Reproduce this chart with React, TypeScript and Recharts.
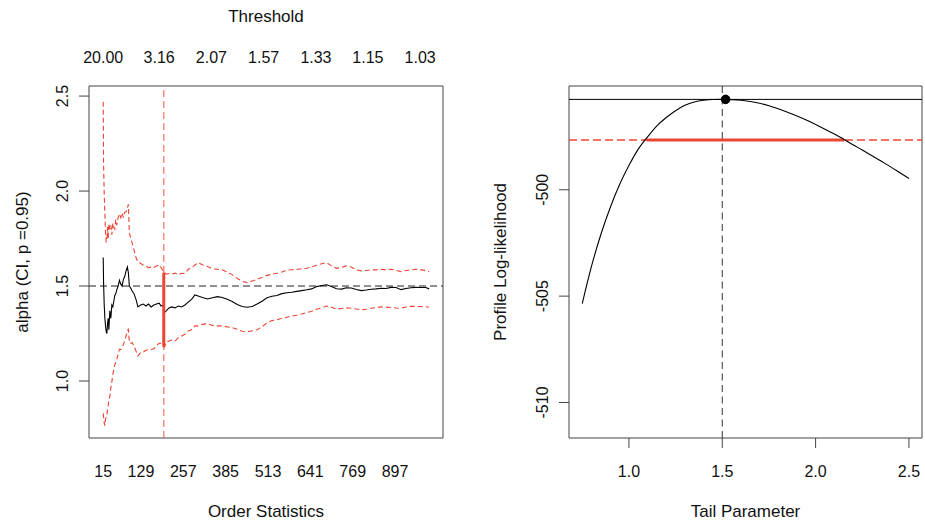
import React from "react";
import {
  ComposedChart,
  Line,
  XAxis,
  YAxis,
  ReferenceLine,
  ReferenceArea,
  ReferenceDot,
} from "recharts";

// ---- left panel: alpha estimate with CI by order statistic ----
const orderStats = [
  15, 16, 18, 20, 22, 24, 26, 28, 30, 32, 35, 38, 41, 44, 47, 50, 53, 56, 60, 64, 68, 72, 76, 80, 84, 88, 91, 94, 98,
  102, 108, 114, 120, 128, 136, 144, 152, 160, 168, 176, 184, 190, 196, 200, 206, 214, 222, 232, 242, 252, 262, 272,
  282, 292, 302, 315, 330, 345, 360, 375, 390, 405, 420, 435, 450, 465, 480, 495, 510, 525, 540, 555, 570, 585, 600,
  615, 630, 645, 660, 675, 690, 705, 720, 735, 750, 765, 780, 795, 810, 825, 840, 855, 870, 885, 900, 915, 930, 945,
  960, 975, 990, 1000,
];
const alphaHat = [
  1.65, 1.52, 1.4, 1.33, 1.29, 1.26, 1.25, 1.3, 1.33, 1.27, 1.37, 1.33, 1.4, 1.39, 1.42, 1.45, 1.46, 1.48, 1.5, 1.53,
  1.51, 1.5, 1.535, 1.55, 1.58, 1.6, 1.57, 1.5, 1.49, 1.475, 1.46, 1.43, 1.39, 1.4, 1.405, 1.395, 1.405, 1.39, 1.4,
  1.405, 1.41, 1.395, 1.4, 1.36, 1.37, 1.385, 1.39, 1.385, 1.395, 1.39, 1.4, 1.415, 1.43, 1.453, 1.448, 1.44, 1.432,
  1.438, 1.444, 1.44, 1.43, 1.418, 1.403, 1.392, 1.388, 1.392, 1.405, 1.42, 1.438, 1.446, 1.45, 1.46, 1.465, 1.467,
  1.472, 1.476, 1.48, 1.485, 1.497, 1.503, 1.507, 1.497, 1.486, 1.484, 1.491, 1.49, 1.482, 1.476, 1.479, 1.483, 1.485,
  1.488, 1.487, 1.493, 1.492, 1.481, 1.487, 1.491, 1.493, 1.492, 1.492, 1.485,
];
const ciUpper = [
  2.47, 2.15, 1.98, 1.88, 1.78, 1.73, 1.74, 1.81, 1.75, 1.83, 1.8, 1.82, 1.77, 1.83, 1.81, 1.8, 1.85, 1.82, 1.86, 1.88,
  1.86, 1.885, 1.86, 1.89, 1.89, 1.91, 1.93, 1.78, 1.755, 1.728, 1.69, 1.65, 1.625, 1.62, 1.61, 1.605, 1.597, 1.6,
  1.598, 1.605, 1.612, 1.597, 1.58, 1.57, 1.562, 1.566, 1.562, 1.568, 1.56, 1.567, 1.566, 1.588, 1.596, 1.611, 1.623,
  1.612, 1.603, 1.59, 1.588, 1.586, 1.573, 1.56, 1.54, 1.525, 1.518, 1.527, 1.535, 1.545, 1.556, 1.562, 1.567, 1.574,
  1.583, 1.586, 1.587, 1.591, 1.594, 1.6, 1.609, 1.617, 1.623, 1.606, 1.593, 1.598, 1.606, 1.6, 1.585, 1.58, 1.582,
  1.585, 1.585, 1.588, 1.585, 1.588, 1.583, 1.576, 1.582, 1.585, 1.588, 1.585, 1.582, 1.576,
];
const ciLower = [
  0.83, 0.81, 0.78, 0.765, 0.8, 0.81, 0.82, 0.85, 0.87, 0.9, 0.92, 0.965, 0.995, 1.035, 1.06, 1.085, 1.1, 1.115, 1.14,
  1.167, 1.165, 1.176, 1.193, 1.21, 1.237, 1.264, 1.272, 1.205, 1.198, 1.203, 1.185, 1.158, 1.132, 1.15, 1.152, 1.162,
  1.165, 1.166, 1.17, 1.185, 1.2, 1.198, 1.19, 1.18, 1.205, 1.211, 1.215, 1.21, 1.228, 1.237, 1.246, 1.264, 1.27,
  1.29, 1.29, 1.298, 1.302, 1.292, 1.29, 1.29, 1.285, 1.281, 1.272, 1.262, 1.26, 1.264, 1.27, 1.285, 1.306, 1.318,
  1.322, 1.33, 1.336, 1.342, 1.346, 1.353, 1.36, 1.367, 1.378, 1.384, 1.395, 1.388, 1.378, 1.382, 1.385, 1.383, 1.379,
  1.374, 1.378, 1.383, 1.386, 1.39, 1.389, 1.387, 1.384, 1.383, 1.39, 1.393, 1.393, 1.392, 1.391, 1.388,
];
const kTicks = [15, 129, 257, 385, 513, 641, 769, 897];
const thresholdAt = [15, 184, 342, 500, 658, 815, 973];
const thresholdLabels = ["20.00", "3.16", "2.07", "1.57", "1.33", "1.15", "1.03"];
const alphaTicks = [1, 1.5, 2, 2.5];
const trueAlpha = 1.5;
const chosenK = 198;
const chosenUpper = 1.57;
const chosenLower = 1.18;

// ---- right panel: profile log-likelihood ----
const tailParam = [
  0.75, 0.8, 0.85, 0.9, 0.95, 1.0, 1.05, 1.1, 1.15, 1.2, 1.25, 1.3, 1.35, 1.4, 1.45, 1.5, 1.55, 1.6, 1.65, 1.7, 1.75,
  1.8, 1.85, 1.9, 1.95, 2.0, 2.05, 2.1, 2.15, 2.2, 2.25, 2.3, 2.35, 2.4, 2.45, 2.5,
];
const profileLL = [
  -505.35, -503.58, -502.09, -500.83, -499.75, -498.86, -498.09, -497.51, -496.99, -496.6, -496.28, -496.03, -495.87,
  -495.79, -495.755, -495.75, -495.76, -495.79, -495.85, -495.93, -496.05, -496.19, -496.35, -496.53, -496.72, -496.93,
  -497.15, -497.38, -497.62, -497.88, -498.13, -498.39, -498.65, -498.91, -499.19, -499.47,
];
const tailTicks = [1, 1.5, 2, 2.5];
const llTicks = [-510, -505, -500];
const mleAlpha = 1.518;
const maxLL = -495.75;
const cutLL = -497.66;
const ciLo = 1.095;
const ciHi = 2.153;

const hillData = orderStats.map((k, i) => ({
  k,
  est: alphaHat[i],
  upper: ciUpper[i],
  lower: ciLower[i],
}));
const profileData = tailParam.map((x, i) => ({ x, ll: profileLL[i] }));

const ink = "#111";
const boxColor = "#444";
const red = "#ee4433";
const titleSize = 17;
const kDomain: [number, number] = [-28, 1042];
const alphaDomain: [number, number] = [0.7, 2.553];
const tailDomain: [number, number] = [0.679, 2.57];
const llDomain: [number, number] = [-511.67, -495.12];

function BottomTick({ x, y, payload, dy = 39, fmt }: any) {
  const v = payload.value;
  return (
    <text x={x} y={y + dy} textAnchor="middle" fontSize={16} fill={ink}>
      {fmt ? fmt(v) : v}
    </text>
  );
}

function TopTick({ x, y, payload }: any) {
  const i = thresholdAt.indexOf(payload.value);
  return (
    <text x={x} y={y - 23} textAnchor="middle" fontSize={16} fill={ink}>
      {thresholdLabels[i]}
    </text>
  );
}

function SideTick({ x, y, payload, fmt }: any) {
  const bx = x - 11;
  return (
    <text
      x={bx}
      y={y}
      transform={`rotate(-90 ${bx} ${y})`}
      textAnchor="middle"
      fontSize={16}
      fill={ink}
    >
      {fmt(payload.value)}
    </text>
  );
}

function HillPanel() {
  return (
    <ComposedChart
      width={462}
      height={525}
      data={hillData}
      margin={{ top: 0, right: 19, bottom: 0, left: 0 }}
    >
      <XAxis
        dataKey="k"
        type="number"
        domain={kDomain}
        allowDataOverflow
        ticks={kTicks}
        interval={0}
        height={87}
        axisLine={false}
        tickLine={false}
        tickSize={0}
        tickMargin={0}
        tick={<BottomTick dy={39} />}
        label={{ value: "Order Statistics", position: "insideBottom", offset: 8, fill: ink, fontSize: titleSize }}
      />
      <XAxis
        xAxisId="top"
        dataKey="k"
        orientation="top"
        type="number"
        domain={kDomain}
        allowDataOverflow
        ticks={thresholdAt}
        interval={0}
        height={86}
        axisLine={false}
        tickLine={false}
        tickSize={0}
        tickMargin={0}
        tick={<TopTick />}
        label={{ value: "Threshold", position: "insideTop", offset: 10, fill: ink, fontSize: titleSize }}
      />
      <YAxis
        type="number"
        domain={alphaDomain}
        allowDataOverflow
        ticks={alphaTicks}
        interval={0}
        width={89}
        axisLine={false}
        tickLine={{ stroke: boxColor }}
        tickSize={10}
        tickMargin={0}
        tick={<SideTick fmt={(v: number) => v.toFixed(1)} />}
        label={{
          value: "alpha (CI, p =0.95)",
          angle: -90,
          position: "insideLeft",
          offset: 22,
          fill: ink,
          fontSize: titleSize,
          style: { textAnchor: "middle" },
        }}
      />
      <ReferenceArea
        x1={kDomain[0]}
        x2={kDomain[1]}
        y1={alphaDomain[0]}
        y2={alphaDomain[1]}
        fill="none"
        stroke={boxColor}
        strokeWidth={1}
      />
      <ReferenceLine x={chosenK} stroke={red} strokeOpacity={0.7} strokeDasharray="7 4" strokeWidth={1.3} />
      <ReferenceLine y={trueAlpha} stroke="#222" strokeDasharray="7 4" strokeWidth={1} />
      <Line
        xAxisId="top"
        type="linear"
        dataKey="upper"
        stroke={red}
        strokeWidth={1.1}
        strokeDasharray="5 3"
        dot={false}
        isAnimationActive={false}
      />
      <Line
        type="linear"
        dataKey="lower"
        stroke={red}
        strokeWidth={1.1}
        strokeDasharray="5 3"
        dot={false}
        isAnimationActive={false}
      />
      <Line type="linear" dataKey="est" stroke="#000" strokeWidth={1.1} dot={false} isAnimationActive={false} />
      <ReferenceLine
        segment={[
          { x: chosenK, y: chosenLower },
          { x: chosenK, y: chosenUpper },
        ]}
        stroke={red}
        strokeWidth={3}
      />
    </ComposedChart>
  );
}

function ProfilePanel() {
  return (
    <ComposedChart
      width={463}
      height={525}
      data={profileData}
      margin={{ top: 86, right: 3, bottom: 0, left: 0 }}
    >
      <XAxis
        dataKey="x"
        type="number"
        domain={tailDomain}
        allowDataOverflow
        ticks={tailTicks}
        interval={0}
        height={87}
        axisLine={false}
        tickLine={{ stroke: boxColor }}
        tickSize={10}
        tickMargin={0}
        tick={<BottomTick dy={29} fmt={(v: number) => v.toFixed(1)} />}
        label={{ value: "Tail Parameter", position: "insideBottom", offset: 8, fill: ink, fontSize: titleSize }}
      />
      <YAxis
        type="number"
        domain={llDomain}
        allowDataOverflow
        ticks={llTicks}
        interval={0}
        width={107}
        axisLine={false}
        tickLine={{ stroke: boxColor }}
        tickSize={10}
        tickMargin={0}
        tick={<SideTick fmt={(v: number) => String(v)} />}
        label={{
          value: "Profile Log-likelihood",
          angle: -90,
          position: "insideLeft",
          offset: 38,
          fill: ink,
          fontSize: titleSize,
          style: { textAnchor: "middle" },
        }}
      />
      <ReferenceArea
        x1={tailDomain[0]}
        x2={tailDomain[1]}
        y1={llDomain[0]}
        y2={llDomain[1]}
        fill="none"
        stroke={boxColor}
        strokeWidth={1}
      />
      <ReferenceLine x={trueAlpha} stroke="#333" strokeDasharray="7 4.5" strokeWidth={1} />
      <ReferenceLine y={maxLL} stroke="#000" strokeWidth={1} />
      <ReferenceLine y={cutLL} stroke={red} strokeDasharray="8 4" strokeWidth={1.3} />
      <ReferenceLine
        segment={[
          { x: ciLo, y: cutLL },
          { x: ciHi, y: cutLL },
        ]}
        stroke={red}
        strokeWidth={3}
      />
      <Line type="monotone" dataKey="ll" stroke="#000" strokeWidth={1.1} dot={false} isAnimationActive={false} />
      <ReferenceDot x={mleAlpha} y={maxLL} r={4.3} fill="#000" stroke="#000" />
    </ComposedChart>
  );
}

export default function App() {
  return (
    <div
      style={{
        position: "absolute",
        left: 0,
        top: 0,
        width: 925,
        height: 525,
        background: "#fff",
        fontFamily: "'Liberation Sans', Arial, Helvetica, sans-serif",
        fontSize: 16,
      }}
    >
      <div style={{ position: "absolute", left: 0, top: 0 }}>
        <HillPanel />
      </div>
      <div style={{ position: "absolute", left: 462, top: 0 }}>
        <ProfilePanel />
      </div>
    </div>
  );
}
